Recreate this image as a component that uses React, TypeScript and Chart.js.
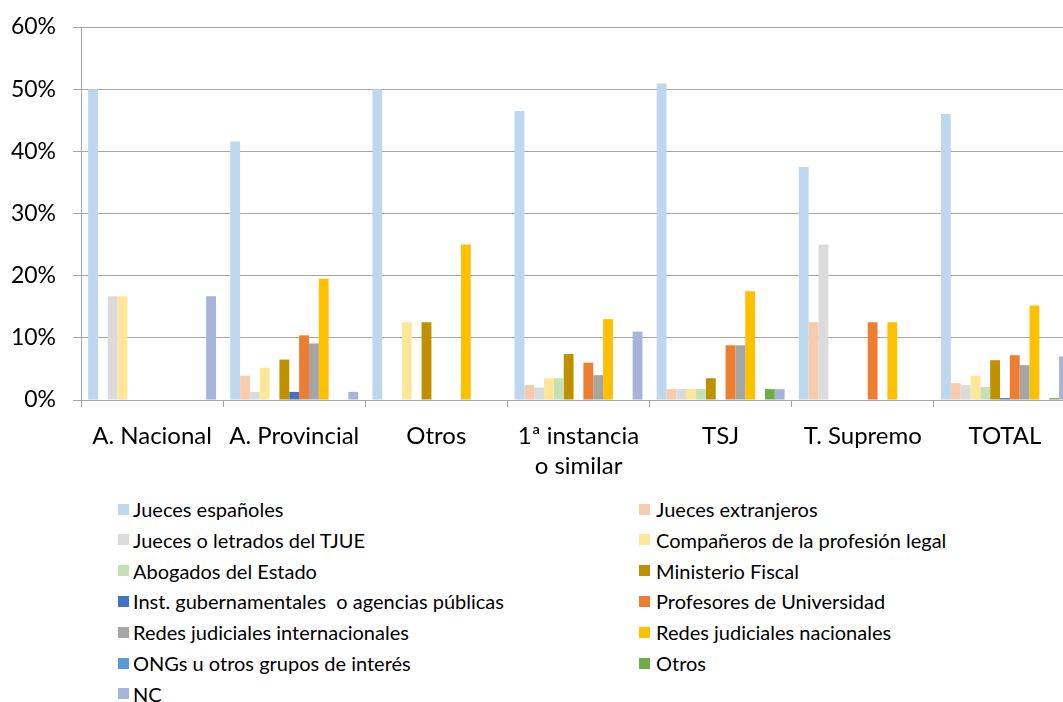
import React, { useEffect, useRef } from 'react';
import { Chart, registerables } from 'chart.js';
Chart.register(...registerables);

const categories: (string | string[])[] = ['A. Nacional', 'A. Provincial', 'Otros', ['1ª instancia', 'o similar'], 'TSJ', 'T. Supremo', 'TOTAL'];
const yTicks = [0, 10, 20, 30, 40, 50, 60];

const seriesNames = [
  'Jueces españoles',
  'Jueces extranjeros',
  'Jueces o letrados del TJUE',
  'Compañeros de la profesión legal',
  'Abogados del Estado',
  'Ministerio Fiscal',
  'Inst. gubernamentales  o agencias públicas',
  'Profesores de Universidad',
  'Redes judiciales internacionales',
  'Redes judiciales nacionales',
  'ONGs u otros grupos de interés',
  'Otros',
  'NC',
];
const seriesColors = ['#BDD7EE', '#F8CBAD', '#DBDBDB', '#FFE699', '#C5E0B4', '#BF9000', '#4472C4', '#ED7D31', '#A5A5A5', '#FFC000', '#5B9BD5', '#70AD47', '#A7B4DA'];

const juecesEspanoles = [50, 41.6, 50, 46.5, 50.9, 37.5, 46.0];
const juecesExtranjeros = [0, 3.9, 0, 2.4, 1.75, 12.5, 2.7];
const juecesTJUE = [16.67, 1.3, 0, 2.0, 1.75, 25, 2.4];
const companeros = [16.67, 5.2, 12.5, 3.5, 1.75, 0, 3.9];
const abogadosEstado = [0, 0, 0, 3.5, 1.75, 0, 2.1];
const ministerioFiscal = [0, 6.5, 12.5, 7.4, 3.5, 0, 6.4];
const instGubernamentales = [0, 1.3, 0, 0, 0, 0, 0.3];
const profesores = [0, 10.4, 0, 6.0, 8.8, 12.5, 7.2];
const redesInternacionales = [0, 9.1, 0, 4.0, 8.8, 0, 5.6];
const redesNacionales = [0, 19.5, 25, 13.0, 17.5, 12.5, 15.2];
const ongs = [0, 0, 0, 0, 0, 0, 0];
const otros = [0, 0, 0, 0, 1.75, 0, 0.3];
const nc = [16.67, 1.3, 0, 11.0, 1.75, 0, 7.0];

const seriesValues = [juecesEspanoles, juecesExtranjeros, juecesTJUE, companeros, abogadosEstado, ministerioFiscal, instGubernamentales, profesores, redesInternacionales, redesNacionales, ongs, otros, nc];

const FONT = "Lato, 'Open Sans', sans-serif";
const CW = 1076;
const CH = 480;

export default function App() {
  const ref = useRef<HTMLCanvasElement | null>(null);
  useEffect(() => {
    if (!ref.current) return;
    const chart = new Chart(ref.current, {
      type: 'bar',
      data: {
        labels: categories,
        datasets: seriesNames.map((name, i) => ({
          label: name,
          data: seriesValues[i],
          backgroundColor: seriesColors[i],
          borderWidth: 0,
          categoryPercentage: 0.9,
          barPercentage: 1,
        })),
      },
      options: {
        animation: false,
        responsive: false,
        layout: { padding: { top: 27, left: 0, right: 0, bottom: 0 } },
        plugins: { legend: { display: false }, tooltip: { enabled: false } },
        scales: {
          x: {
            afterFit: (s: any) => { s.height = 80; s.paddingLeft = 0; s.paddingRight = 0; },
            grid: { display: true, drawOnChartArea: false, drawTicks: true, tickLength: 7, color: '#A6A6A6', offset: true },
            border: { display: true, color: '#A6A6A6', width: 1 },
            ticks: { color: '#000', font: { family: FONT, size: 24, lineHeight: '30px' }, padding: 14, maxRotation: 0, autoSkip: false },
          },
          y: {
            min: 0,
            max: 60,
            afterFit: (s: any) => { s.width = 81; s.paddingTop = 0; s.paddingBottom = 0; },
            afterBuildTicks: (s: any) => { s.ticks = yTicks.map((v) => ({ value: v })); },
            grid: { color: '#A6A6A6', lineWidth: 1, tickLength: 8, drawTicks: true },
            border: { display: true, color: '#A6A6A6', width: 1 },
            ticks: { color: '#000', font: { family: FONT, size: 23 }, padding: 17, callback: (v: any) => v + '%' },
          },
        },
      },
    });
    return () => chart.destroy();
  }, []);

  const rowY = (i: number) => 509 + 30.8 * i;
  return (
    <div style={{ position: 'absolute', left: 0, top: 0, width: 1063, height: 702, overflow: 'hidden', background: '#fff' }}>
      <canvas ref={ref} width={CW} height={CH} style={{ position: 'absolute', left: 0, top: 0, width: CW, height: CH }} />
      {seriesNames.map((name, i) => {
        const col = i % 2;
        const row = Math.floor(i / 2);
        const cy = rowY(row);
        const boxLeft = col === 0 ? 118 : 639;
        const textLeft = col === 0 ? 133 : 656;
        return (
          <React.Fragment key={name}>
            <div style={{ position: 'absolute', left: boxLeft, top: cy - 5.5, width: 11, height: 11, background: seriesColors[i] }} />
            <div style={{ position: 'absolute', left: textLeft, top: cy - 13, height: 26, lineHeight: '26px', fontFamily: FONT, fontSize: 20, color: '#000', whiteSpace: 'pre' }}>{name}</div>
          </React.Fragment>
        );
      })}
    </div>
  );
}
